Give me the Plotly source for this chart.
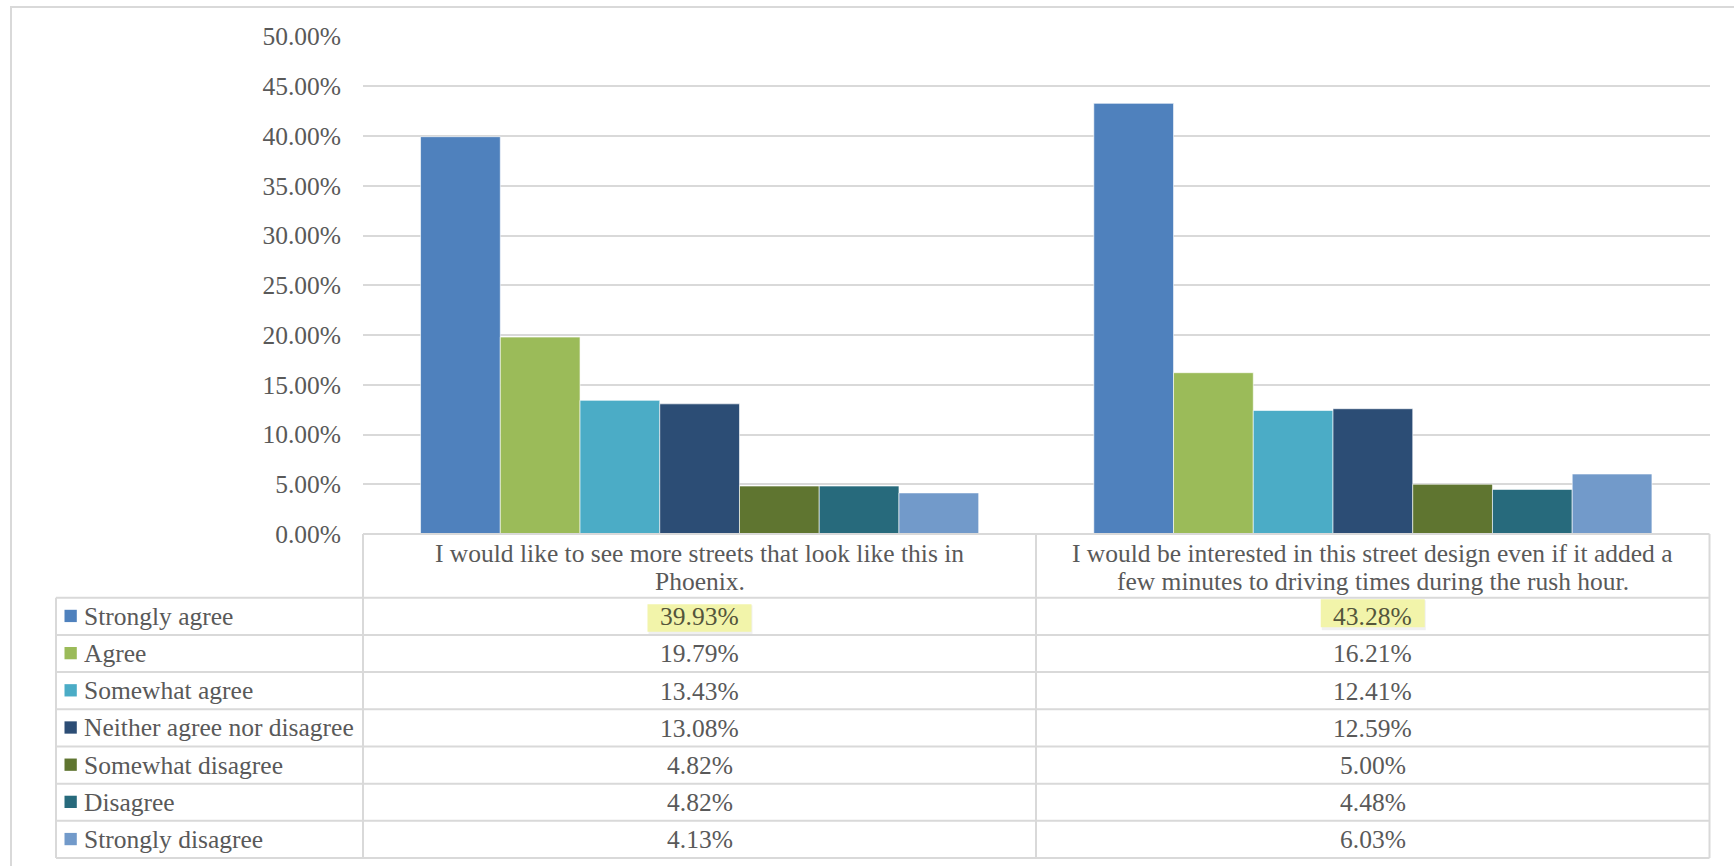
import plotly.graph_objects as go

# ---------------- data ----------------
categories = [
    "I would like to see more streets that look like this in Phoenix.",
    "I would be interested in this street design even if it added a few minutes to driving times during the rush hour.",
]
header_lines = [
    ["I would like to see more streets that look like this in", "Phoenix."],
    ["I would be interested in this street design even if it added a",
     "few minutes to driving times during the rush hour."],
]
responses = ["Strongly agree", "Agree", "Somewhat agree", "Neither agree nor disagree",
             "Somewhat disagree", "Disagree", "Strongly disagree"]
strongly_agree = [39.93, 43.28]
agree = [19.79, 16.21]
somewhat_agree = [13.43, 12.41]
neither = [13.08, 12.59]
somewhat_disagree = [4.82, 5.00]
disagree = [4.82, 4.48]
strongly_disagree = [4.13, 6.03]
series = [strongly_agree, agree, somewhat_agree, neither, somewhat_disagree, disagree, strongly_disagree]
y_tick_values = [0, 5, 10, 15, 20, 25, 30, 35, 40, 45, 50]
highlighted_row = 0  # "Strongly agree" values are highlighted

# ---------------- style ----------------
colors = ["#4F81BD", "#9BBB59", "#4BACC6", "#2C4D75", "#5F7530", "#276A7C", "#729ACA"]
W, H = 1734, 866
PL, PR, PT, PB = 363, 1709.5, 36.5, 534
HEADER_BOTTOM = 597.7
ROW_H = (858 - HEADER_BOTTOM) / 7
TABLE_LEFT = 56
COL_DIV = 1036
FONT = "Liberation Serif"
TXT = "#595959"
LINE = "#D9D9D9"
FS = 25.5

def fx(x):
    return x / W

def fy(y):
    return 1 - y / H

fig = go.Figure()
for name, vals, col in zip(responses, series, colors):
    fig.add_trace(go.Bar(
        x=categories, y=[v / 100 for v in vals], name=name,
        marker=dict(color=col, line=dict(color="rgba(255,255,255,0.6)", width=1)),
        showlegend=False, hoverinfo="skip",
    ))

shapes = []
annotations = []

# outer border
shapes.append(dict(type="rect", xref="paper", yref="paper",
                   x0=fx(11), x1=fx(1745), y0=fy(7), y1=fy(880),
                   line=dict(color=LINE, width=2), fillcolor="rgba(0,0,0,0)", layer="below"))

# table lines
def hline(y, x0, x1):
    shapes.append(dict(type="line", xref="paper", yref="paper", x0=fx(x0), x1=fx(x1),
                       y0=fy(y), y1=fy(y), line=dict(color=LINE, width=2)))

def vline(x, y0, y1):
    shapes.append(dict(type="line", xref="paper", yref="paper", x0=fx(x), x1=fx(x),
                       y0=fy(y0), y1=fy(y1), line=dict(color=LINE, width=2)))

hline(PB, PL, PR)
for i in range(8):
    hline(HEADER_BOTTOM + i * ROW_H, TABLE_LEFT, PR)
vline(TABLE_LEFT, HEADER_BOTTOM, 858)
vline(PL, PB, 858)
vline(COL_DIV, PB, 858)
vline(PR, PB, 858)

col_centers = [(PL + COL_DIV) / 2, (COL_DIV + PR) / 2]

# header text
for ci, lines in enumerate(header_lines):
    for li, line in enumerate(lines):
        annotations.append(dict(xref="paper", yref="paper", x=fx(col_centers[ci]),
                                y=fy(553 + li * 28), text=line, showarrow=False,
                                xanchor="center", yanchor="middle",
                                font=dict(family=FONT, size=FS, color=TXT)))

# highlight boxes
hl_offsets = [(6.5, 34), (1.5, 29.5)]
for ci in range(len(categories)):
    top = HEADER_BOTTOM + highlighted_row * ROW_H
    y0, y1 = top + hl_offsets[ci][0], top + hl_offsets[ci][1]
    cx = col_centers[ci]
    shapes.append(dict(type="rect", xref="paper", yref="paper",
                       x0=fx(cx - 51), x1=fx(cx + 53), y0=fy(y0 + 1), y1=fy(y1 + 3),
                       line=dict(width=0), fillcolor="rgba(0,0,0,0.06)", layer="below"))
    shapes.append(dict(type="rect", xref="paper", yref="paper",
                       x0=fx(cx - 52), x1=fx(cx + 52), y0=fy(y0), y1=fy(y1),
                       line=dict(width=0), fillcolor="#F2F4AA", layer="below"))

# rows
for ri, (name, vals, col) in enumerate(zip(responses, series, colors)):
    cy = HEADER_BOTTOM + ri * ROW_H + ROW_H / 2
    shapes.append(dict(type="rect", xref="paper", yref="paper",
                       x0=fx(64.5), x1=fx(76.8), y0=fy(cy - 6.5), y1=fy(cy + 5.8),
                       line=dict(width=0), fillcolor=col))
    annotations.append(dict(xref="paper", yref="paper", x=fx(82), y=fy(cy), text=name,
                            showarrow=False, xanchor="left", yanchor="middle",
                            font=dict(family=FONT, size=FS, color=TXT)))
    for ci, v in enumerate(vals):
        c = "#54553B" if ri == highlighted_row else TXT
        annotations.append(dict(xref="paper", yref="paper", x=fx(col_centers[ci]),
                                y=fy(cy + 0.5), text=f"{v:.2f}%", showarrow=False,
                                xanchor="center", yanchor="middle",
                                font=dict(family=FONT, size=FS, color=c)))

fig.update_layout(
    width=W, height=H,
    margin=dict(l=0, r=0, t=0, b=0, pad=0, autoexpand=False),
    paper_bgcolor="white", plot_bgcolor="white",
    barmode="group", bargap=0.171, bargroupgap=0,
    xaxis=dict(domain=[fx(PL), fx(PR)], showticklabels=False, showgrid=False,
               zeroline=False, showline=False, fixedrange=True, automargin=False),
    yaxis=dict(domain=[fy(PB), fy(PT)], range=[0, 0.5], tickvals=[v / 100 for v in y_tick_values],
               tickformat=".2%", showgrid=True, gridcolor=LINE, gridwidth=2,
               zeroline=False, showline=False, ticks="", ticklabelstandoff=21,
               automargin=False,
               tickfont=dict(family=FONT, size=FS, color=TXT), fixedrange=True),
    shapes=shapes, annotations=annotations,
    showlegend=False,
)

fig.write_html("out.html", config={"displayModeBar": False},
               post_script="document.body.style.margin='0';")
